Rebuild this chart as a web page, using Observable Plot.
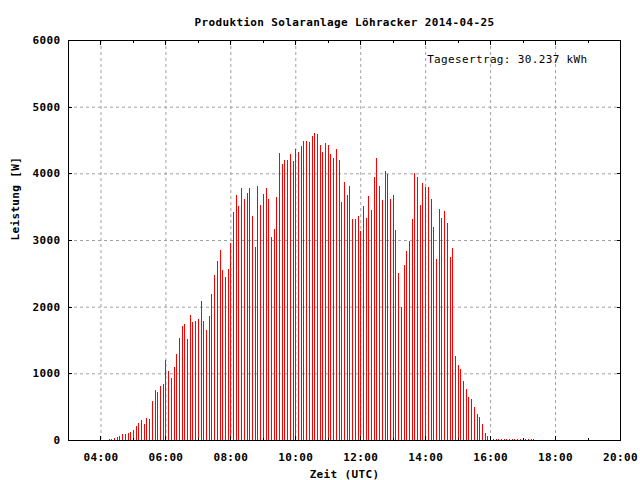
<!DOCTYPE html>
<html>
<head>
<meta charset="utf-8">
<script src="https://cdn.jsdelivr.net/npm/d3@7"></script>
<script src="https://cdn.jsdelivr.net/npm/@observablehq/plot@0.6"></script>
<style>
  html, body { margin: 0; padding: 0; background: white; }
</style>
</head>
<body>
<div id="chart"></div>
<script>
const title = "Produktion Solaranlage Löhracker 2014-04-25";
const totalLabel = "Tagesertrag: 30.237 kWh";
const xLabel = "Zeit (UTC)";
const yLabel = "Leistung [W]";

// 5-minute sample times (UTC)
const times = [
  "04:15","04:20","04:25","04:30","04:35","04:40","04:45","04:50","04:55",
  "05:00","05:05","05:10","05:15","05:20","05:25","05:30","05:35","05:40","05:45","05:50","05:55",
  "06:00","06:05","06:10","06:15","06:20","06:25","06:30","06:35","06:40","06:45","06:50","06:55",
  "07:00","07:05","07:10","07:15","07:20","07:25","07:30","07:35","07:40","07:45","07:50","07:55",
  "08:00","08:05","08:10","08:15","08:20","08:25","08:30","08:35","08:40","08:45","08:50","08:55",
  "09:00","09:05","09:10","09:15","09:20","09:25","09:30","09:35","09:40","09:45","09:50","09:55",
  "10:00","10:05","10:10","10:15","10:20","10:25","10:30","10:35","10:40","10:45","10:50","10:55",
  "11:00","11:05","11:10","11:15","11:20","11:25","11:30","11:35","11:40","11:45","11:50","11:55",
  "12:00","12:05","12:10","12:15","12:20","12:25","12:30","12:35","12:40","12:45","12:50","12:55",
  "13:00","13:05","13:10","13:15","13:20","13:25","13:30","13:35","13:40","13:45","13:50","13:55",
  "14:00","14:05","14:10","14:15","14:20","14:25","14:30","14:35","14:40","14:45","14:50","14:55",
  "15:00","15:05","15:10","15:15","15:20","15:25","15:30","15:35","15:40","15:45","15:50","15:55",
  "16:00","16:05","16:10","16:15","16:20","16:25","16:30","16:35","16:40","16:45","16:50","16:55",
  "17:00","17:05","17:10","17:15","17:20"
];

// Power in W
const watts = [
  15,15,30,45,60,90,90,100,120,
  150,210,255,300,240,330,315,585,750,720,810,840,
  1205,1035,930,1095,1290,1530,1710,1740,1515,1875,1770,1785,
  1815,2085,1785,1650,1860,2190,2475,2685,2850,2550,2445,2565,
  2950,3420,3675,3510,3780,3615,3705,3780,3360,2895,3810,3525,
  3690,3780,3615,3045,3165,3645,4305,4140,4200,4200,4290,4185,
  4365,4320,4410,4485,4485,4470,4560,4605,4590,4425,4320,4455,
  4425,4290,4230,4365,4200,3570,3870,3675,3810,3315,3315,3360,
  3135,3510,3330,3660,3450,3945,4230,3810,3600,4035,3990,3615,
  3675,3150,2505,1995,2625,2835,2985,3315,4005,3945,3525,3855,
  3795,3795,3615,3195,2715,3465,3330,3435,3255,2745,2880,1260,
  1125,1065,885,765,645,615,495,390,345,240,105,60,
  60,15,15,15,15,15,15,15,15,15,15,15,
  15,15,15,15,15
];

const yTicks = [0, 1000, 2000, 3000, 4000, 5000, 6000];
const xMajorTicks = ["04:00","06:00","08:00","10:00","12:00","14:00","16:00","18:00","20:00"];
const xMinorTicks = ["03:00","05:00","07:00","09:00","11:00","13:00","15:00","17:00","19:00"];
const xGridTicks = ["04:00","06:00","08:00","10:00","12:00","14:00","16:00","18:00"];
const xDomain = ["03:00", "20:00"];
const yDomain = [0, 6000];

const parse = s => new Date(`2014-04-25T${s}:00Z`);
const data = times.map((t, i) => ({time: parse(t), watt: watts[i]}));
const fmt = d3.utcFormat("%H:%M");

const grid = {stroke: "#a0a0a0", strokeOpacity: 1, strokeDasharray: "3,3", strokeWidth: 1};

const chart = Plot.plot({
  width: 640,
  height: 480,
  marginLeft: 68,
  marginRight: 20,
  marginTop: 40,
  marginBottom: 40,
  style: {
    fontFamily: "'DejaVu Sans Mono', monospace",
    fontSize: "11px",
    letterSpacing: "0.35px",
    background: "white",
    color: "black",
    overflow: "visible"
  },
  x: {type: "utc", domain: xDomain.map(parse)},
  y: {domain: yDomain},
  marks: [
    Plot.gridY(yTicks, grid),
    Plot.gridX(xGridTicks.map(parse), grid),
    Plot.ruleX(data, {x: "time", y: "watt", stroke: "#ff0000", strokeWidth: 1, shapeRendering: "crispEdges"}),
    Plot.frame({stroke: "black", shapeRendering: "crispEdges"}),
    // inward tick marks
    Plot.axisY(yTicks, {anchor: "left", tickSize: 4, dx: 4, tickFormat: () => "", label: null, shapeRendering: "crispEdges"}),
    Plot.axisY(yTicks, {anchor: "right", tickSize: 4, dx: -4, tickFormat: () => "", label: null, shapeRendering: "crispEdges"}),
    Plot.axisX(xMajorTicks.map(parse), {anchor: "bottom", tickSize: 4, dy: -4, tickFormat: () => "", label: null, shapeRendering: "crispEdges"}),
    Plot.axisX(xMajorTicks.map(parse), {anchor: "top", tickSize: 4, dy: 4, tickFormat: () => "", label: null, shapeRendering: "crispEdges"}),
    Plot.axisX(xMinorTicks.map(parse), {anchor: "bottom", tickSize: 2, dy: -2, tickFormat: () => "", label: null, shapeRendering: "crispEdges"}),
    Plot.axisX(xMinorTicks.map(parse), {anchor: "top", tickSize: 2, dy: 2, tickFormat: () => "", label: null, shapeRendering: "crispEdges"}),
    // tick labels
    Plot.axisY(yTicks, {anchor: "left", tickSize: 0, tickPadding: 8, tickFormat: d3.format("d"), label: null, fontWeight: "bold"}),
    Plot.axisX(xMajorTicks.map(parse), {anchor: "bottom", tickSize: 0, tickPadding: 13, tickFormat: fmt, label: null, fontWeight: "bold"}),
    // titles
    Plot.text([title], {frameAnchor: "top", dy: -22, fontWeight: 600}),
    Plot.text([totalLabel], {frameAnchor: "top-right", dx: -33, dy: 15, textAnchor: "end"}),
    Plot.text([xLabel], {frameAnchor: "bottom", dy: 37, fontWeight: "bold"}),
    Plot.text([yLabel], {frameAnchor: "left", dx: -53, rotate: -90, fontWeight: "bold"})
  ]
});
document.getElementById("chart").appendChild(chart);
</script>
</body>
</html>
